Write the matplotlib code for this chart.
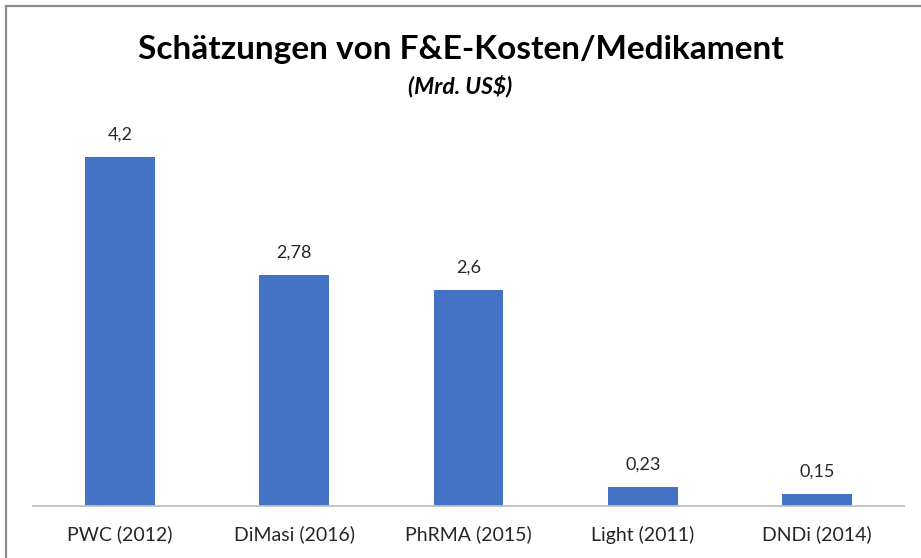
import matplotlib.pyplot as plt
from matplotlib.lines import Line2D

categories = ['PWC (2012)', 'DiMasi (2016)', 'PhRMA (2015)', 'Light (2011)', 'DNDi (2014)']
values = [4.2, 2.78, 2.6, 0.23, 0.15]
value_labels = ['4,2', '2,78', '2,6', '0,23', '0,15']

title = 'Schätzungen von F&E-Kosten/Medikament'
subtitle = '(Mrd. US$)'

bar_color = '#4472C4'
text_color = '#262626'

plt.rcParams['font.family'] = ['Lato', 'DejaVu Sans']

fig = plt.figure(figsize=(9.21, 5.58), dpi=100)
ax = fig.add_axes([33 / 921, 52 / 558, 871 / 921, 374 / 558])

x = range(len(categories))
bars = ax.bar(x, values, width=0.40, color=bar_color, zorder=2)
ax.set_xlim(-0.5, len(categories) - 0.5)
ax.set_ylim(0, 4.5)

for bar, lab in zip(bars, value_labels):
    ax.annotate(lab, (bar.get_x() + bar.get_width() / 2, bar.get_height()),
                xytext=(0, 10), textcoords='offset points',
                ha='center', va='bottom', fontsize=13, color=text_color)

ax.set_xticks(list(x))
ax.set_xticklabels(categories, fontsize=14, color=text_color)
ax.tick_params(axis='x', length=0, pad=14)
ax.set_yticks([])
for side in ['left', 'right', 'top']:
    ax.spines[side].set_visible(False)
ax.spines['bottom'].set_color('#BFBFBF')
ax.spines['bottom'].set_linewidth(1.3)

fig.text(0.5, 1 - 50 / 558, title, ha='center', va='center',
         fontsize=24, fontweight='bold', color='black')
fig.text(0.5, 1 - 86 / 558, subtitle, ha='center', va='center',
         fontsize=16.5, fontweight='bold', style='italic', color='black')

# chart frame (only left and top edges are visible in the crop)
fig.add_artist(Line2D([6 / 921, 6 / 921], [0, 1 - 6 / 558], color='#8C8C8C', lw=1.6))
fig.add_artist(Line2D([6 / 921, 1], [1 - 6 / 558, 1 - 6 / 558], color='#8C8C8C', lw=1.6))

fig.savefig('out.png', dpi=100)
